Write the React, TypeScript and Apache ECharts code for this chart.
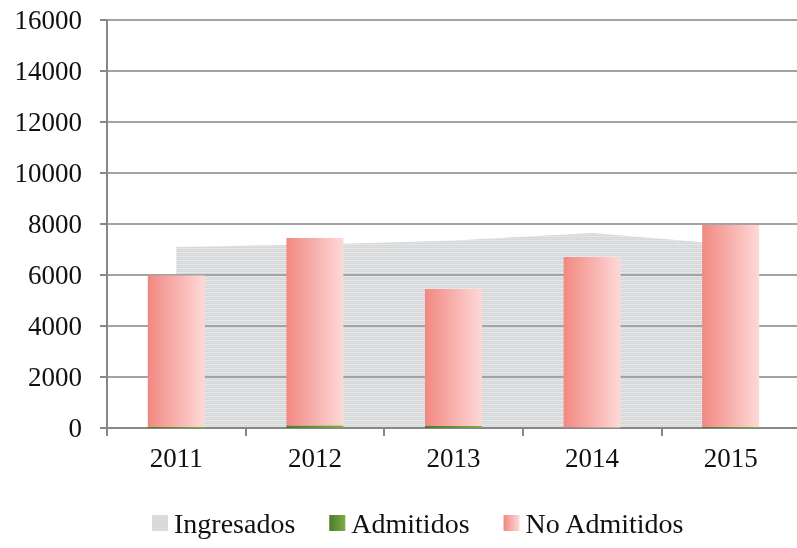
import React, { useEffect, useRef } from "react";
import * as echarts from "echarts";

const categories = ["2011", "2012", "2013", "2014", "2015"];
const ingresados = [7100, 7200, 7350, 7650, 7200];
const admitidos = [40, 100, 80, 15, 40];
const noAdmitidos = [5940, 7350, 5370, 6690, 7920];
const yTicks = { min: 0, max: 16000, interval: 2000 };

const FONT = "'Liberation Serif', 'Times New Roman', serif";

function makePattern(): any {
  const c = document.createElement("canvas");
  c.width = 4;
  c.height = 4;
  const ctx = c.getContext("2d");
  if (!ctx) return "#dcdddf";
  ctx.fillStyle = "#d7d8d9";
  ctx.fillRect(0, 0, 4, 4);
  ctx.fillStyle = "#e6e7e8";
  ctx.fillRect(0, 0, 4, 1);
  ctx.fillRect(1, 2, 1, 1);
  ctx.fillRect(3, 2, 1, 1);
  return { image: c, repeat: "repeat" };
}

export default function App() {
  const ref = useRef<HTMLDivElement>(null);
  useEffect(() => {
    if (!ref.current) return;
    const chart = echarts.init(ref.current, null, { renderer: "svg" });
    const redGrad = new echarts.graphic.LinearGradient(0, 0, 1, 0, [
      { offset: 0, color: "#f28882" },
      { offset: 1, color: "#fdd9d7" },
    ]);
    const greenGrad = new echarts.graphic.LinearGradient(0, 0, 1, 0, [
      { offset: 0, color: "#4d7a2b" },
      { offset: 1, color: "#7cad46" },
    ]);
    let areaColor: any = "#dcdddf";
    try {
      areaColor = makePattern();
    } catch (e) {
      areaColor = "#dcdddf";
    }
    chart.setOption({
      animation: false,
      textStyle: { fontFamily: FONT },
      grid: { left: 107, right: 0, top: 20, bottom: 120, containLabel: false },
      legend: {
        top: 509,
        left: 152,
        padding: 0,
        itemWidth: 16,
        itemHeight: 16,
        itemGap: 34,
        icon: "rect",
        textStyle: { fontFamily: FONT, fontSize: 28, color: "#111", padding: [0, 0, 0, 1] },
        data: [
          { name: "Ingresados", itemStyle: { color: "#d9dadb" } },
          { name: "Admitidos", itemStyle: { color: greenGrad } },
          { name: "No Admitidos", itemStyle: { color: redGrad } },
        ],
      },
      xAxis: {
        type: "category",
        data: categories,
        boundaryGap: true,
        axisLine: { lineStyle: { color: "#878787", width: 2 } },
        axisTick: { show: true, length: 8, lineStyle: { color: "#878787", width: 2 } },
        axisLabel: { fontFamily: FONT, fontSize: 27, color: "#111", margin: 16 },
        splitLine: { show: false },
      },
      yAxis: {
        type: "value",
        min: yTicks.min,
        max: yTicks.max,
        interval: yTicks.interval,
        axisLine: { show: true, lineStyle: { color: "#878787", width: 2 } },
        axisTick: { show: true, length: 7, lineStyle: { color: "#878787", width: 2 } },
        axisLabel: {
          fontFamily: FONT,
          fontSize: 27,
          color: "#111",
          margin: 25,
          formatter: (v: number) => String(v),
        },
        splitLine: { show: true, lineStyle: { color: "#a3a3a5", width: 2 } },
      },
      series: [
        {
          name: "Ingresados",
          type: "line",
          data: ingresados,
          z: -1,
          symbol: "none",
          lineStyle: { width: 0, color: "#e2e3e4" },
          itemStyle: { color: "#d9dadb" },
          areaStyle: { color: areaColor, opacity: 1 },
        },
        {
          name: "Admitidos",
          type: "bar",
          stack: "total",
          barWidth: 57,
          data: admitidos,
          itemStyle: { color: greenGrad },
        },
        {
          name: "No Admitidos",
          type: "bar",
          stack: "total",
          barWidth: 57,
          data: noAdmitidos,
          itemStyle: { color: redGrad },
        },
      ],
    });
    return () => chart.dispose();
  }, []);
  return (
    <div
      ref={ref}
      style={{ position: "fixed", left: 0, top: 0, width: 800, height: 548 }}
    />
  );
}
